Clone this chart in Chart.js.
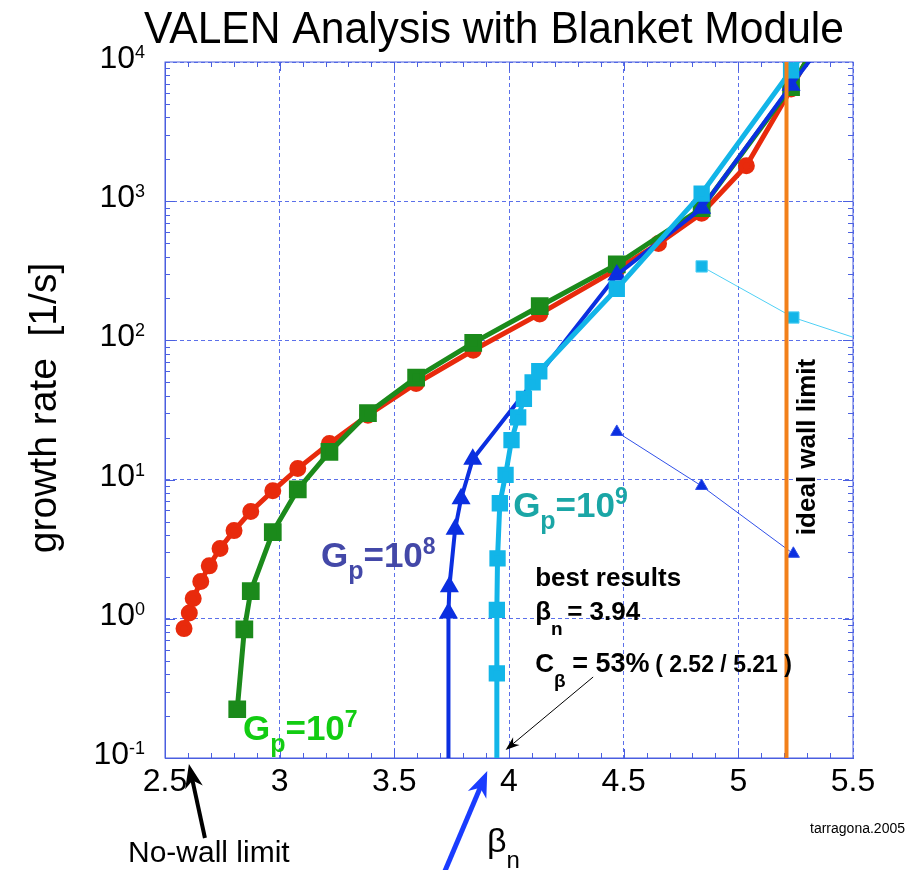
<!DOCTYPE html>
<html>
<head>
<meta charset="utf-8">
<script src="https://cdn.jsdelivr.net/npm/chart.js@4.4.0/dist/chart.umd.min.js"></script>
<style>
  body { margin: 0; background: #fff; }
  #wrap { width: 917px; height: 870px; position: relative; }
</style>
</head>
<body>
<div id="wrap"><canvas id="myChart"></canvas></div>
<script>
// axes
const xTicks = [2.5, 3, 3.5, 4, 4.5, 5, 5.5];
const yTicks = [0.1, 1, 10, 100, 1000, 10000];
const yTickExp = ['-1', '0', '1', '2', '3', '4'];   // labels are 10^exp

// red curve (circles)
const redBeta = [2.583, 2.606, 2.623, 2.656, 2.693, 2.74, 2.801, 2.874, 2.97, 3.079, 3.217, 3.385, 3.595, 3.844, 4.134, 4.47, 4.652, 4.84, 5.035, 5.23, 5.4];
const redRate = [0.85, 1.1, 1.4, 1.85, 2.4, 3.2, 4.3, 5.9, 8.3, 12, 18.2, 29, 49, 85, 155, 324, 496, 818, 1800, 6400, 21000];

// Gp=10^7 (green squares)
const g7Beta = [2.815, 2.846, 2.874, 2.97, 3.079, 3.217, 3.385, 3.595, 3.844, 4.134, 4.47, 4.84, 5.23, 5.4];
const g7Rate = [0.224, 0.84, 1.58, 4.2, 8.5, 15.8, 30, 54, 96, 176, 352, 890, 6600, 20000];

// Gp=10^8 (blue triangles)
const g8Beta = [3.736, 3.736, 3.74, 3.765, 3.791, 3.842, 4.47, 4.84, 5.23, 5.4];
const g8Rate = [0.1, 1.1, 1.7, 4.4, 7.3, 14, 295, 890, 6800, 16000];

// Gp=10^9 (cyan squares)
const g9Beta = [3.947, 3.947, 3.947, 3.95, 3.96, 3.985, 4.011, 4.04, 4.065, 4.103, 4.132, 4.47, 4.84, 5.23, 5.4];
const g9Rate = [0.1, 0.405, 1.16, 2.72, 6.76, 10.8, 19.2, 28, 38, 50, 60, 235, 1135, 8700, 21000];

// second branches (thin lines)
const g9SideBeta = [4.84, 5.24, 5.6];
const g9SideRate = [340, 146, 93];
const g8SideBeta = [4.47, 4.84, 5.24];
const g8SideRate = [22, 9, 2.93];

const idealWall = 5.21;
const noWall = 2.6;
const bestBeta = 3.94;

const FONT = '"Liberation Sans", Arial, Helvetica, sans-serif';
const gridCol = '#5b70ea';

const pts = (xs, ys) => xs.map((x, i) => ({ x: x, y: ys[i] }));
// no marker for points sitting on / beyond the frame
const rad = r => c => (c.raw && (c.raw.y <= 0.1 || c.raw.y >= 10000 || c.raw.x > 5.5)) ? 0 : r;

// text made of pieces (sub/superscripts); p.x = fixed offset from start
function runs(ctx, x0, y, parts, color) {
  ctx.fillStyle = color;
  ctx.textAlign = 'left';
  ctx.textBaseline = 'alphabetic';
  let x = x0;
  parts.forEach(p => {
    ctx.font = (p.b ? 'bold ' : '') + p.s + 'px ' + FONT;
    if (p.x !== undefined) x = x0 + p.x;
    ctx.fillText(p.t, x, y + (p.dy || 0));
    x += ctx.measureText(p.t).width;
  });
}

function arrow(ctx, x1, y1, x2, y2, color, lw, hl, hw) {
  const a = Math.atan2(y2 - y1, x2 - x1);
  const c = Math.cos(a), s = Math.sin(a);
  const bx = x2 - hl * c, by = y2 - hl * s;
  ctx.strokeStyle = color;
  ctx.fillStyle = color;
  ctx.lineWidth = lw;
  ctx.beginPath();
  ctx.moveTo(x1, y1);
  ctx.lineTo(x2 - hl * 0.6 * c, y2 - hl * 0.6 * s);
  ctx.stroke();
  ctx.beginPath();
  ctx.moveTo(x2, y2);
  ctx.lineTo(bx + hw * s, by - hw * c);
  ctx.lineTo(x2 - hl * 0.7 * c, y2 - hl * 0.7 * s);
  ctx.lineTo(bx - hw * s, by + hw * c);
  ctx.closePath();
  ctx.fill();
}

const extras = {
  id: 'extras',
  beforeDatasetsDraw(chart) {
    const { ctx, chartArea: a, scales: { x, y } } = chart;
    ctx.save();
    ctx.strokeStyle = '#4a5fe0';
    ctx.lineWidth = 1;
    ctx.strokeRect(a.left, a.top, a.right - a.left, a.bottom - a.top);
    ctx.beginPath();
    for (let i = 26; i < 55; i++) {
      const px = Math.round(x.getPixelForValue(i / 10)) + 0.5;
      const len = i % 5 === 0 ? 9 : 5;
      ctx.moveTo(px, a.bottom); ctx.lineTo(px, a.bottom - len);
      ctx.moveTo(px, a.top); ctx.lineTo(px, a.top + len);
    }
    for (let d = -1; d < 4; d++) {
      for (let m = 1; m < 10; m++) {
        const py = Math.round(y.getPixelForValue(m * Math.pow(10, d))) + 0.5;
        const len = m === 1 ? 10 : 5;
        ctx.moveTo(a.left, py); ctx.lineTo(a.left + len, py);
        ctx.moveTo(a.right, py); ctx.lineTo(a.right - len, py);
      }
    }
    ctx.stroke();
    ctx.restore();
  },
  afterDraw(chart) {
    const { ctx, chartArea: a, scales: { x, y } } = chart;
    ctx.save();
    // y tick labels 10^n with real superscripts
    y.ticks.forEach(t => {
      const i = yTicks.indexOf(t.value);
      if (i < 0) return;
      const py = y.getPixelForValue(t.value) + 6;
      ctx.font = '18px ' + FONT;
      const wExp = ctx.measureText(yTickExp[i]).width;
      ctx.font = '32px ' + FONT;
      const wTen = ctx.measureText('10').width;
      runs(ctx, a.left - 20 - wExp - wTen, py, [{ t: '10', s: 32 }, { t: yTickExp[i], s: 18, dy: -10 }], '#000');
    });

    // title
    ctx.fillStyle = '#000';
    ctx.font = '45px ' + FONT;
    ctx.textAlign = 'center';
    ctx.textBaseline = 'alphabetic';
    ctx.fillText('VALEN Analysis with Blanket Module', 494, 43, 700);
    // y title
    ctx.save();
    ctx.translate(45, 408);
    ctx.rotate(-Math.PI / 2);
    ctx.font = '39px ' + FONT;
    ctx.textBaseline = 'middle';
    ctx.fillText('growth rate  [1/s]', 0, 0, 293);
    ctx.restore();

    // curve labels
    let lx = x.getPixelForValue(3.18), ly = y.getPixelForValue(2.35);
    runs(ctx, lx, ly, [{ t: 'G', s: 35, b: 1 }, { t: 'p', s: 25, b: 1, dy: 12 }, { t: '=10', s: 35, b: 1 }, { t: '8', s: 23, b: 1, dy: -13 }], '#4348a8');
    lx = x.getPixelForValue(4.018); ly = y.getPixelForValue(5.4);
    runs(ctx, lx, ly, [{ t: 'G', s: 35, b: 1 }, { t: 'p', s: 25, b: 1, dy: 12 }, { t: '=10', s: 35, b: 1 }, { t: '9', s: 23, b: 1, dy: -13 }], '#1aa6a6');
    lx = x.getPixelForValue(2.84); ly = y.getPixelForValue(0.135);
    runs(ctx, lx, ly, [{ t: 'G', s: 35, b: 1 }, { t: 'p', s: 25, b: 1, dy: 12 }, { t: '=10', s: 35, b: 1 }, { t: '7', s: 23, b: 1, dy: -13 }], '#12cc12');

    // best results
    lx = x.getPixelForValue(4.114);
    runs(ctx, lx, 586, [{ t: 'best results', s: 26, b: 1 }], '#000');
    runs(ctx, lx, 620, [{ t: 'β', s: 26, b: 1 }, { t: 'n', s: 19, b: 1, dy: 15 }, { t: '= ' + bestBeta.toFixed(2), s: 26, b: 1, x: 32 }], '#000');
    runs(ctx, lx, 672, [{ t: 'C', s: 26, b: 1 }, { t: 'β', s: 19, b: 1, dy: 15 }, { t: '= 53%', s: 27, b: 1, x: 37 }, { t: '( 2.52 / 5.21 )', s: 23, b: 1, x: 120 }], '#000');
    arrow(ctx, lx + 58, 677, x.getPixelForValue(3.985), a.bottom - 8, '#000', 1, 14, 5);

    // ideal wall limit
    ctx.save();
    ctx.translate(815, 447);
    ctx.rotate(-Math.PI / 2);
    ctx.font = 'bold 26px ' + FONT;
    ctx.fillStyle = '#000';
    ctx.textAlign = 'center';
    ctx.textBaseline = 'alphabetic';
    ctx.fillText('ideal wall limit', 0, 0);
    ctx.restore();

    // below the axis
    const nx = x.getPixelForValue(noWall);
    arrow(ctx, nx + 17, 838, nx + 1, a.bottom + 6, '#000', 4, 24, 9);
    runs(ctx, 128, 862, [{ t: 'No-wall limit', s: 30 }], '#000');
    const bx = x.getPixelForValue(bestBeta);
    arrow(ctx, bx - 52, 875, bx - 8, a.bottom + 13, '#1a3cff', 5, 26, 10);
    runs(ctx, 487, 852, [{ t: 'β', s: 34 }, { t: 'n', s: 24, dy: 16 }], '#000');
    ctx.font = '14px ' + FONT;
    ctx.fillStyle = '#000';
    ctx.textAlign = 'right';
    ctx.fillText('tarragona.2005', 905, 833);
    ctx.restore();
  }
};

const ctx = document.getElementById('myChart').getContext('2d');
const chart = new Chart(ctx, {
  type: 'line',
  data: {
    datasets: [
      {
        label: 'ideal wall limit',
        data: pts([idealWall, idealWall], [0.1, 10000]),
        borderColor: '#f2801a', borderWidth: 4, pointRadius: 0, order: 0
      },
      {
        label: 'Gp=10^9',
        data: pts(g9Beta, g9Rate),
        borderColor: '#12b5e8', backgroundColor: '#12b5e8', borderWidth: 5,
        pointStyle: 'rect', pointRadius: rad(8), order: 1
      },
      {
        label: 'Gp=10^8',
        data: pts(g8Beta, g8Rate),
        borderColor: '#0b2fe0', backgroundColor: '#0b2fe0', borderWidth: 4,
        pointStyle: 'triangle', pointRadius: rad(7), order: 2
      },
      {
        label: 'Gp=10^7',
        data: pts(g7Beta, g7Rate),
        borderColor: '#1b8a1b', backgroundColor: '#1b8a1b', borderWidth: 5,
        pointStyle: 'rect', pointRadius: rad(9), order: 3
      },
      {
        label: 'red',
        data: pts(redBeta, redRate),
        borderColor: '#e82a0c', backgroundColor: '#e82a0c', borderWidth: 5,
        pointStyle: 'circle', pointRadius: rad(6), order: 4
      },
      {
        label: 'Gp=10^9 branch',
        data: pts(g9SideBeta, g9SideRate),
        borderColor: '#4fd0f5', backgroundColor: '#12b5e8', borderWidth: 1,
        pointStyle: 'rect', pointRadius: rad(8), order: 5
      },
      {
        label: 'Gp=10^8 branch',
        data: pts(g8SideBeta, g8SideRate),
        borderColor: '#3050e8', backgroundColor: '#0b2fe0', borderWidth: 1,
        pointStyle: 'triangle', pointRadius: rad(7), order: 6
      }
    ]
  },
  options: {
    responsive: true,
    maintainAspectRatio: false,
    animation: false,
    events: [],
    layout: { padding: { top: 62, right: 64, left: 0, bottom: 0 } },
    elements: {
      line: { tension: 0 },
      point: { borderWidth: 0, hoverRadius: 0 }
    },
    plugins: {
      legend: { display: false },
      tooltip: { enabled: false },
      title: { display: false }
    },
    scales: {
      x: {
        type: 'linear', min: 2.5, max: 5.5,
        afterFit: s => { s.height = 112; },
        afterBuildTicks: s => { s.ticks = xTicks.map(v => ({ value: v })); },
        ticks: {
          color: '#000', padding: 5,
          font: { family: FONT, size: 32 },
          callback: v => String(v)
        },
        grid: { color: gridCol, lineWidth: 1, drawTicks: false },
        border: { display: true, color: '#4a5fe0', width: 1, dash: [4, 3] }
      },
      y: {
        type: 'logarithmic', min: 0.1, max: 10000,
        afterFit: s => { s.width = 165; },
        afterBuildTicks: s => { s.ticks = yTicks.map(v => ({ value: v })); },
        ticks: {
          // labels drawn with superscripts by the extras plugin
          callback: () => ''
        },
        grid: { color: gridCol, lineWidth: 1, drawTicks: false },
        border: { display: true, color: '#4a5fe0', width: 1, dash: [4, 3] }
      }
    }
  },
  plugins: [extras]
});
</script>
</body>
</html>
